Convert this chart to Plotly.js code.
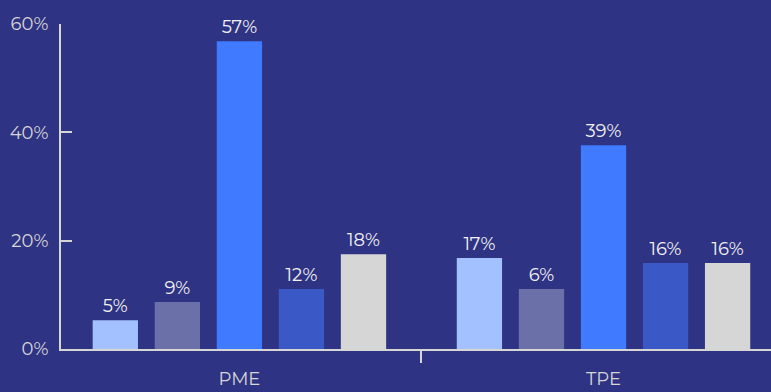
<!DOCTYPE html>
<html>
<head>
<meta charset="utf-8">
<script src="https://cdn.plot.ly/plotly-3.0.1.min.js"></script>
<style>
html,body{margin:0;padding:0;background:#2f3383;}
#chart{width:771px;height:392px;}
</style>
</head>
<body>
<div id="chart"></div>
<script>
const categories = ["PME", "TPE"];
const seriesNames = ["Série 1", "Série 2", "Série 3", "Série 4", "Série 5"];
// bar heights (percent), per series: [PME, TPE]
const s1 = [5.3, 16.8];
const s2 = [8.7, 11.1];
const s3 = [56.8, 37.6];
const s4 = [11.1, 15.9];
const s5 = [17.5, 15.9];
// printed labels (percent), per series: [PME, TPE]
const l1 = [5, 17];
const l2 = [9, 6];
const l3 = [57, 39];
const l4 = [12, 16];
const l5 = [18, 16];
const yTicks = [0, 20, 40, 60];

const colors = ["#a3c1ff", "#6c70a8", "#407bff", "#3a58c6", "#d6d6d6"];
const values = [s1, s2, s3, s4, s5];
const labels = [l1, l2, l3, l4, l5];

const data = values.map((v, i) => ({
  type: "bar",
  name: seriesNames[i],
  x: categories,
  y: v,
  text: labels[i].map(t => t + "%"),
  textposition: "outside",
  textfont: {color: "#f2f2f2", size: 18, family: "Montserrat, 'Open Sans', sans-serif"},
  cliponaxis: false,
  marker: {color: colors[i]},
  hoverinfo: "skip"
}));

const layout = {
  width: 771,
  height: 392,
  margin: {l: 61, r: 0, t: 24, b: 43},
  paper_bgcolor: "#2f3383",
  plot_bgcolor: "#2f3383",
  showlegend: false,
  barmode: "group",
  bargap: 0.148,
  bargroupgap: 0.27,
  font: {family: "Montserrat, 'Open Sans', sans-serif", color: "#d6d6d6", size: 18},
  xaxis: {
    type: "category",
    range: [-0.49, 1.46],
    showline: true,
    linecolor: "#d6d6d6",
    linewidth: 2,
    ticks: "outside",
    tickson: "boundaries",
    ticklen: 12,
    tickwidth: 2,
    tickcolor: "#d6d6d6",
    showgrid: false,
    zeroline: false,
    tickfont: {size: 18, color: "#d6d6d6"},
    ticklabelstandoff: 12
  },
  yaxis: {
    range: [0, 60],
    tickvals: yTicks,
    ticktext: yTicks.map(t => t + "%"),
    showline: true,
    linecolor: "#d6d6d6",
    linewidth: 2,
    ticks: "inside",
    ticklen: 11,
    tickwidth: 2,
    tickcolor: "#d6d6d6",
    showgrid: false,
    zeroline: false,
    tickfont: {size: 18, color: "#d6d6d6"},
    ticklabelstandoff: 7
  }
};

Plotly.newPlot("chart", data, layout, {displayModeBar: false, staticPlot: true});
</script>
</body>
</html>
